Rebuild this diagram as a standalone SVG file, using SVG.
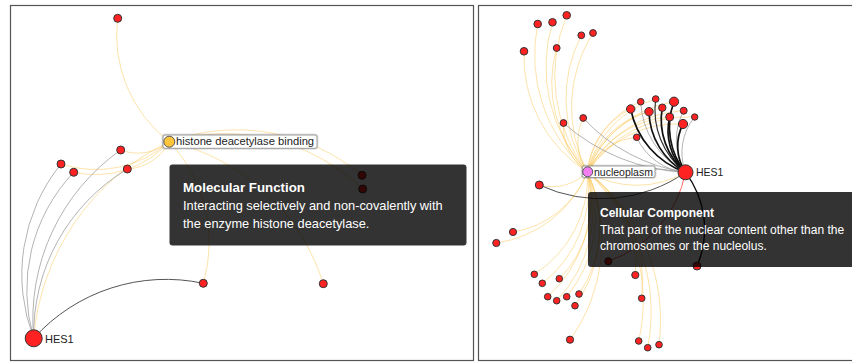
<svg xmlns="http://www.w3.org/2000/svg" width="852" height="362" viewBox="0 0 852 362">
<style>
.panel{fill:#fff;stroke:#555;stroke-width:1.2}
.y{fill:none;stroke:#fcc857;stroke-opacity:.5;stroke-width:1}
.g{fill:none;stroke:#999;stroke-opacity:.75;stroke-width:1}
.dg{fill:none;stroke:#555;stroke-width:1}
.k{fill:none;stroke:#111;stroke-width:1.7}
.rd{fill:none;stroke:#f66;stroke-width:1}
.n{fill:#f22;stroke:#333;stroke-width:1}
.lbl{fill:#fff;stroke:#999;stroke-width:1}
.sh{fill:none;stroke:#000;stroke-opacity:.12;stroke-width:3}
.t{font-family:"Liberation Sans",Arial,sans-serif;fill:#222}
.tip{fill:#000;fill-opacity:.8}
.tt{font-family:"Liberation Sans",Arial,sans-serif;fill:#fff}
</style>
<rect class="panel" x="10.5" y="5.5" width="463" height="355"/>
<rect class="panel" x="478.5" y="5.5" width="400" height="355"/>

<g id="connectors">
<!-- left panel -->
<path class="y" d="M169.3,141.7 A134,134 0 0,1 117.7,18.3"/>
<path class="y" d="M120.7,150 A49,49 0 0,0 169.3,141.7"/>
<path class="y" d="M61,164 A111,111 0 0,0 169.3,141.7"/>
<path class="y" d="M73.7,172.3 A100,100 0 0,0 169.3,141.7"/>
<path class="y" d="M127.3,169 A50,50 0 0,0 169.3,141.7"/>
<path class="y" d="M169.3,141.7 A196,196 0 0,1 362,175.3"/>
<path class="y" d="M169.3,141.7 A199,199 0 0,1 362.7,189"/>
<path class="y" d="M169.3,141.7 A146,146 0 0,1 203.3,283.3"/>
<path class="y" d="M169.3,141.7 A210,210 0 0,1 323.3,283.7"/>
<path class="y" d="M33.7,338.3 A239,239 0 0,1 169.3,141.7"/>
<path class="g" d="M33.7,338.3 A176,176 0 0,1 61,164"/>
<path class="g" d="M33.7,338.3 A171,171 0 0,1 73.7,172.3"/>
<path class="g" d="M33.7,338.3 A207,207 0 0,1 120.7,150"/>
<path class="g" d="M33.7,338.3 A193,193 0 0,1 127.3,169"/>
<path class="dg" d="M33.7,338.3 A178,178 0 0,1 203.3,283.3"/>
<!-- right panel: nucleoplasm to top nodes -->
<path class="y" d="M587.5,172 A156,156 0 0,1 537.7,24"/>
<path class="y" d="M587.5,172 A154,154 0 0,1 552.5,22.3"/>
<path class="y" d="M587.5,172 A158,158 0 0,1 566.7,15.3"/>
<path class="y" d="M587.5,172 A137,137 0 0,1 581.3,35.3"/>
<path class="y" d="M587.5,172 A139,139 0 0,1 593,33"/>
<path class="y" d="M587.5,172 A136,136 0 0,1 524,51.3"/>
<path class="y" d="M587.5,172 A128,128 0 0,1 556.7,48"/>
<path class="y" d="M587.5,172 A55,55 0 0,1 563.5,123"/>
<path class="y" d="M587.5,172 A54,54 0 0,1 583.2,118"/>
<!-- nucleoplasm to cluster -->
<path class="y" d="M587.5,172 A76,76 0 0,1 630.7,109"/>
<path class="y" d="M587.5,172 A88,88 0 0,1 640.7,101.7"/>
<path class="y" d="M587.5,172 A100,100 0 0,1 655.7,99"/>
<path class="y" d="M587.5,172 A111,111 0 0,1 674,101.7"/>
<path class="y" d="M587.5,172 A86,86 0 0,1 649,111.7"/>
<path class="y" d="M587.5,172 A99,99 0 0,1 662.3,107.7"/>
<path class="y" d="M587.5,172 A114,114 0 0,1 683.7,110.7"/>
<path class="y" d="M587.5,172 A99,99 0 0,1 669.7,117"/>
<path class="y" d="M587.5,172 A120,120 0 0,1 694.7,117"/>
<path class="y" d="M587.5,172 A107,107 0 0,1 683,124"/>
<path class="y" d="M587.5,172 A60,60 0 0,1 636.7,137.3"/>
<!-- nucleoplasm to lower nodes -->
<path class="y" d="M587.5,172 A50,50 0 0,1 539.3,185"/>
<path class="y" d="M587.5,172 A96,96 0 0,1 513,232"/>
<path class="y" d="M587.5,172 A116,116 0 0,1 496.3,243"/>
<path class="y" d="M587.5,172 A115,115 0 0,1 534.3,274.3"/>
<path class="y" d="M587.5,172 A120,120 0 0,1 542.3,283.3"/>
<path class="y" d="M587.5,172 A110,110 0 0,1 559.3,278.7"/>
<path class="y" d="M587.5,172 A131,131 0 0,1 547.7,296.7"/>
<path class="y" d="M587.5,172 A132,132 0 0,1 556.7,300.7"/>
<path class="y" d="M587.5,172 A126,126 0 0,1 566.7,296.7"/>
<path class="y" d="M587.5,172 A122,122 0 0,1 579,294"/>
<path class="y" d="M587.5,172 A134,134 0 0,1 575,305.7"/>
<path class="y" d="M587.5,172 A169,169 0 0,1 570,339.7"/>
<path class="y" d="M587.5,172 A114,114 0 0,1 635.3,275"/>
<path class="y" d="M587.5,172 A137,137 0 0,1 641.7,298.3"/>
<path class="y" d="M587.5,172 A177,177 0 0,1 638.7,341"/>
<path class="y" d="M587.5,172 A186,186 0 0,1 647.7,347.7"/>
<path class="y" d="M587.5,172 A187,187 0 0,1 659,344.7"/>
<path class="y" d="M587.5,172 A98,98 0 0,0 685.5,172.3"/>
<!-- HES1 (right) edges -->
<path class="g" d="M563.5,123 A197,197 0 0,0 685.5,172.3"/>
<path class="g" d="M583.2,118 A174,174 0 0,0 685.5,172.3"/>
<path class="g" d="M587.5,172 A300,300 0 0,1 685.5,172.3"/>
<path class="dg" d="M685.5,172.3 A147,147 0 0,1 539.3,185"/>
<path class="g" d="M685.5,172.3 A84,84 0 0,1 640.7,101.7"/>
<path class="g" d="M685.5,172.3 A62,62 0 0,1 683.7,110.7"/>
<path class="g" d="M685.5,172.3 A56,56 0 0,1 694.7,117"/>
<path class="g" d="M685.5,172.3 A60,60 0 0,1 636.7,137.3"/>
<path class="k" d="M685.5,172.3 A84,84 0 0,1 630.7,109"/>
<path class="k" d="M685.5,172.3 A79,79 0 0,1 655.7,99" style="stroke-width:1.2;stroke:#333"/>
<path class="k" d="M685.5,172.3 A72,72 0 0,1 674,101.7"/>
<path class="k" d="M685.5,172.3 A71,71 0 0,1 649,111.7"/>
<path class="k" d="M685.5,172.3 A69,69 0 0,1 662.3,107.7"/>
<path class="k" d="M685.5,172.3 A58,58 0 0,1 669.7,117"/>
<path class="k" d="M685.5,172.3 A48,48 0 0,1 683,124"/>
<path class="rd" d="M685.5,172.3 A118,118 0 0,1 608.3,261.3"/>
<path class="k" d="M685.5,172.3 A94,94 0 0,1 697,266" style="stroke-width:1.4"/>
</g>

<!-- left panel nodes -->
<g id="n-top"><circle class="n" cx="117.7" cy="18.3" r="4"/></g>
<g id="n-a"><circle class="n" cx="120.7" cy="150" r="4"/></g>
<g id="n-b"><circle class="n" cx="61" cy="164" r="4"/></g>
<g id="n-c"><circle class="n" cx="73.7" cy="172.3" r="4"/></g>
<g id="n-d"><circle class="n" cx="127.3" cy="169" r="4"/></g>
<g id="n-e1"><circle class="n" cx="362" cy="175.3" r="4"/></g>
<g id="n-e2"><circle class="n" cx="362.7" cy="189" r="4"/></g>
<g id="n-f1"><circle class="n" cx="203.3" cy="283.3" r="4"/></g>
<g id="n-f2"><circle class="n" cx="323.3" cy="283.7" r="4"/></g>
<g id="n-hes1-left">
<circle class="n" cx="33.7" cy="338.3" r="8.5"/>
<text class="t" x="45" y="342.5" font-size="11">HES1</text>
</g>
<g id="n-histone">
<rect class="sh" x="163" y="135" width="154" height="13.3" rx="2"/>
<rect class="lbl" x="163" y="135" width="154" height="13.3" rx="2"/>
<circle cx="169.3" cy="141.7" r="5.5" fill="#fcc53c" stroke="#555" stroke-width="1"/>
<text class="t" x="176" y="145.3" font-size="11.2">histone deacetylase binding</text>
</g>

<!-- right panel nodes -->
<g id="r-t1"><circle class="n" cx="537.7" cy="24" r="3.8"/></g>
<g id="r-t2"><circle class="n" cx="552.5" cy="22.3" r="3.8"/></g>
<g id="r-t3"><circle class="n" cx="566.7" cy="15.3" r="3.8"/></g>
<g id="r-t4"><circle class="n" cx="581.3" cy="35.3" r="3.4"/></g>
<g id="r-t5"><circle class="n" cx="593" cy="33" r="3.4"/></g>
<g id="r-t6"><circle class="n" cx="524" cy="51.3" r="3.8"/></g>
<g id="r-t7"><circle class="n" cx="556.7" cy="48" r="3.4"/></g>
<g id="r-t8"><circle class="n" cx="563.5" cy="123" r="3.4"/></g>
<g id="r-t9"><circle class="n" cx="583.2" cy="118" r="3.4"/></g>
<g id="r-c1"><circle class="n" cx="630.7" cy="109" r="4.2"/></g>
<g id="r-c2"><circle class="n" cx="640.7" cy="101.7" r="3.3"/></g>
<g id="r-c3"><circle class="n" cx="655.7" cy="99" r="3.3"/></g>
<g id="r-c4"><circle class="n" cx="674" cy="101.7" r="4.6"/></g>
<g id="r-c5"><circle class="n" cx="649" cy="111.7" r="4.2"/></g>
<g id="r-c6"><circle class="n" cx="662.3" cy="107.7" r="3.7"/></g>
<g id="r-c7"><circle class="n" cx="683.7" cy="110.7" r="3.5"/></g>
<g id="r-c8"><circle class="n" cx="669.7" cy="117" r="4"/></g>
<g id="r-c9"><circle class="n" cx="694.7" cy="117" r="3.2"/></g>
<g id="r-c10"><circle class="n" cx="683" cy="124" r="4.6"/></g>
<g id="r-c11"><circle class="n" cx="636.7" cy="137.3" r="3.3"/></g>
<g id="r-l1"><circle class="n" cx="539.3" cy="185" r="4"/></g>
<g id="r-l2"><circle class="n" cx="513" cy="232" r="3.6"/></g>
<g id="r-l3"><circle class="n" cx="496.3" cy="243" r="3.6"/></g>
<g id="r-l4"><circle class="n" cx="534.3" cy="274.3" r="3.3"/></g>
<g id="r-l5"><circle class="n" cx="542.3" cy="283.3" r="3.3"/></g>
<g id="r-l6"><circle class="n" cx="559.3" cy="278.7" r="3.3"/></g>
<g id="r-l7"><circle class="n" cx="547.7" cy="296.7" r="3.3"/></g>
<g id="r-l8"><circle class="n" cx="556.7" cy="300.7" r="3.3"/></g>
<g id="r-l9"><circle class="n" cx="566.7" cy="296.7" r="3.3"/></g>
<g id="r-l10"><circle class="n" cx="579" cy="294" r="3.3"/></g>
<g id="r-l11"><circle class="n" cx="575" cy="305.7" r="3.3"/></g>
<g id="r-l12"><circle class="n" cx="570" cy="339.7" r="3.6"/></g>
<g id="r-l13"><circle class="n" cx="635.3" cy="275" r="3.6"/></g>
<g id="r-l14"><circle class="n" cx="641.7" cy="298.3" r="3.3"/></g>
<g id="r-l15"><circle class="n" cx="638.7" cy="341" r="3.3"/></g>
<g id="r-l16"><circle class="n" cx="647.7" cy="347.7" r="3.3"/></g>
<g id="r-l17"><circle class="n" cx="659" cy="344.7" r="3.3"/></g>
<g id="r-k1"><circle class="n" cx="608.3" cy="261.3" r="3.6"/></g>
<g id="r-k2"><circle class="n" cx="697" cy="266" r="4"/></g>
<g id="r-hes1">
<circle class="n" cx="685.5" cy="172.3" r="7.5"/>
<text class="t" x="696" y="176.3" font-size="10.5">HES1</text>
</g>
<g id="r-nucleoplasm">
<rect class="sh" x="582.3" y="166" width="72.7" height="11.5" rx="2"/>
<rect class="lbl" x="582.3" y="166" width="72.7" height="11.5" rx="2"/>
<circle cx="587.7" cy="171.8" r="5" fill="#f27ef2" stroke="#555" stroke-width="1"/>
<text class="t" x="594" y="175.6" font-size="10.5">nucleoplasm</text>
</g>

<!-- tooltips -->
<g id="tooltip-mf">
<rect class="tip" x="169.5" y="164.5" width="297" height="81" rx="3"/>
<text class="tt" x="183" y="191.5" font-size="13.3" font-weight="bold">Molecular Function</text>
<text class="tt" x="183" y="210" font-size="12.8">Interacting selectively and non-covalently with</text>
<text class="tt" x="183" y="227.7" font-size="12.8">the enzyme histone deacetylase.</text>
</g>
<g id="tooltip-cc">
<rect class="tip" x="588" y="192" width="272" height="75" rx="3"/>
<text class="tt" x="600" y="217.3" font-size="12" font-weight="bold">Cellular Component</text>
<text class="tt" x="600" y="234.3" font-size="12">That part of the nuclear content other than the</text>
<text class="tt" x="600" y="250.3" font-size="12">chromosomes or the nucleolus.</text>
</g>
</svg>
